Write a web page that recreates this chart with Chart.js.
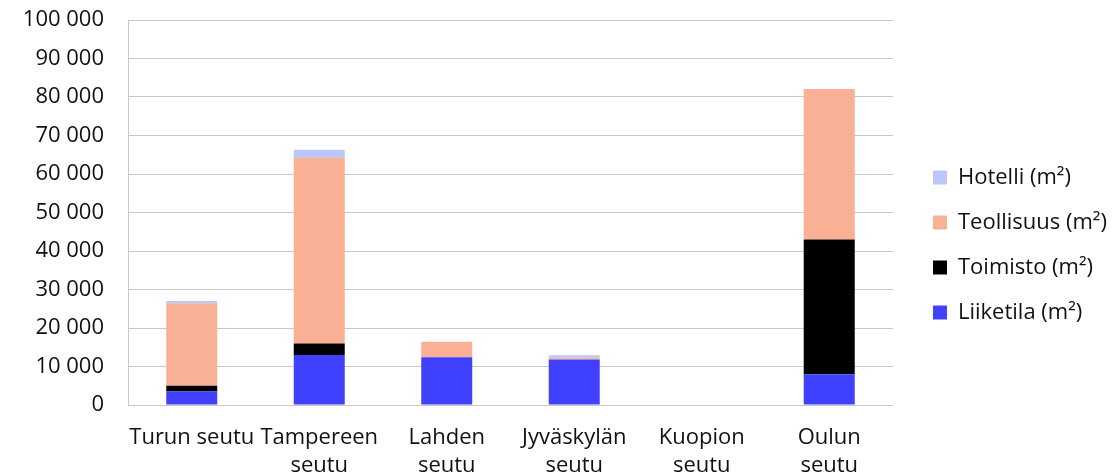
<!DOCTYPE html>
<html>
<head>
<meta charset="utf-8">
<script src="https://cdn.jsdelivr.net/npm/chart.js@4/dist/chart.umd.min.js"></script>
<style>
  body { margin: 0; background: #fff; }
  #wrap { width: 1112px; height: 474px; }
</style>
</head>
<body>
<div id="wrap"><canvas id="myChart" width="1112" height="474"></canvas></div>
<script>
  const labels = [
    ['Turun seutu'],
    ['Tampereen', 'seutu'],
    ['Lahden', 'seutu'],
    ['Jyväskylän', 'seutu'],
    ['Kuopion', 'seutu'],
    ['Oulun', 'seutu']
  ];

  const liiketila = [3500, 13000, 12400, 11800, 0, 8000];
  const toimisto = [1500, 3000, 0, 0, 0, 35000];
  const teollisuus = [21400, 48200, 4000, 450, 0, 39100];
  const hotelli = [600, 2100, 0, 700, 0, 0];

  const data = {
    labels: labels,
    datasets: [
      { label: 'Liiketila (m²)', data: liiketila, backgroundColor: '#4040ff' },
      { label: 'Toimisto (m²)', data: toimisto, backgroundColor: '#000000' },
      { label: 'Teollisuus (m²)', data: teollisuus, backgroundColor: '#f9b095' },
      { label: 'Hotelli (m²)', data: hotelli, backgroundColor: '#bbc7fa' }
    ]
  };

  const fmt = v => String(v).replace(/\B(?=(\d{3})+(?!\d))/g, ' ');

  Chart.defaults.font.family = '"Open Sans", "Noto Sans", sans-serif';
  Chart.defaults.font.size = 22;
  Chart.defaults.color = '#111';

  // push the legend a bit further away from the plot
  const legendShift = {
    id: 'legendShift',
    afterLayout(chart) {
      if (chart.legend) {
        chart.legend.left += 17;
        chart.legend.right += 17;
      }
    }
  };

  const config = {
    type: 'bar',
    data: data,
    options: {
      responsive: false,
      animation: false,
      // top padding only moves the legend down; plot top comes from y paddingTop
      layout: { padding: { top: 16, left: 0, bottom: 0, right: 12 } },
      datasets: { bar: { categoryPercentage: 1, barPercentage: 0.4 } },
      scales: {
        x: {
          stacked: true,
          grid: { display: false, drawTicks: false },
          border: { color: '#c8c8c8' },
          ticks: { maxRotation: 0, autoSkip: false, padding: 19, font: { lineHeight: 1.25 } },
          afterFit: s => { s.height = 69; s.paddingLeft = 0; s.paddingRight = 0; }
        },
        y: {
          stacked: true,
          min: 0,
          max: 100000,
          ticks: { stepSize: 10000, padding: 24, callback: v => fmt(v) },
          grid: { color: '#c8c8c8', tickLength: 0 },
          border: { color: '#c8c8c8' },
          afterFit: s => { s.width = 128; s.paddingTop = 20; s.paddingBottom = 0; }
        }
      },
      plugins: {
        legend: {
          position: 'right',
          reverse: true,
          labels: { boxWidth: 14, boxHeight: 14, padding: 23 }
        },
        tooltip: { enabled: false }
      }
    },
    plugins: [legendShift]
  };

  const myChart = new Chart(document.getElementById('myChart'), config);
</script>
</body>
</html>
